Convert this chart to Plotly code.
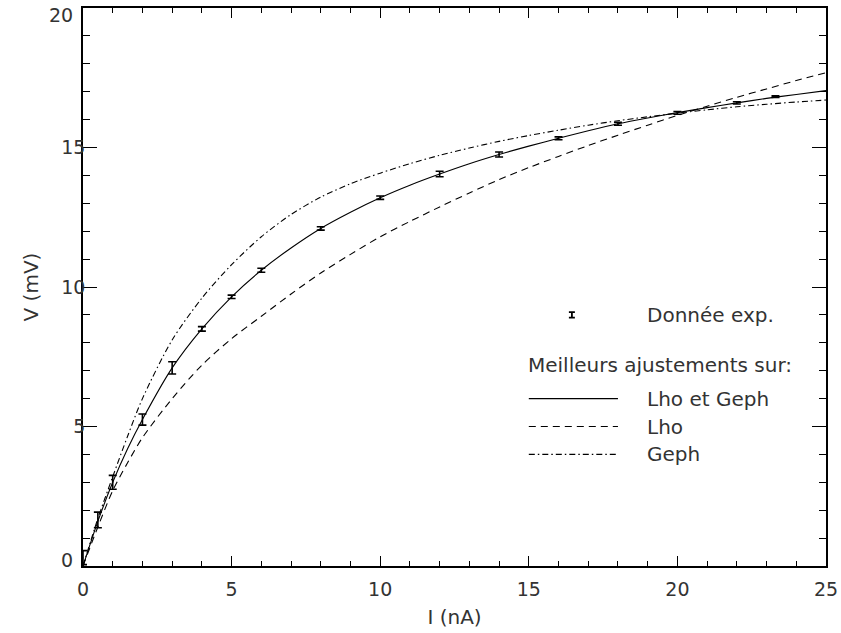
import plotly.graph_objects as go

# Experimental data
I_exp = [0, 0.5, 1, 2, 3, 4, 5, 6, 8, 10, 12, 14, 16, 18, 20, 22, 23.3]
V_exp = [0.3, 1.65, 3.0, 5.25, 7.1, 8.5, 9.65, 10.6, 12.1, 13.2, 14.05, 14.75, 15.33, 15.85, 16.24, 16.6, 16.82]
V_err = [0.25, 0.28, 0.25, 0.2, 0.22, 0.08, 0.06, 0.07, 0.06, 0.06, 0.1, 0.09, 0.05, 0.05, 0.05, 0.04, 0.03]

# Fit curves
I_fit = [0, 0.5, 1, 1.5, 2, 3, 4, 5, 6, 7, 8, 9, 10, 11, 12, 13, 14, 15, 16, 17, 18, 19, 20, 21, 22, 23, 24, 25]
V_both = [0.0, 1.6, 3.0, 4.2, 5.25, 7.1, 8.5, 9.65, 10.6, 11.4, 12.1, 12.68, 13.2, 13.65, 14.05, 14.42, 14.75, 15.05, 15.33, 15.6, 15.85, 16.06, 16.25, 16.43, 16.6, 16.76, 16.9, 17.04]
V_lho = [0.0, 1.4, 2.7, 3.7, 4.6, 6.0, 7.2, 8.15, 8.95, 9.75, 10.5, 11.17, 11.8, 12.35, 12.87, 13.37, 13.85, 14.28, 14.68, 15.07, 15.44, 15.8, 16.15, 16.48, 16.8, 17.1, 17.4, 17.68]
V_geph = [0.0, 1.7, 3.2, 4.65, 6.0, 8.1, 9.6, 10.8, 11.8, 12.6, 13.22, 13.7, 14.08, 14.42, 14.72, 14.98, 15.22, 15.43, 15.62, 15.8, 15.96, 16.1, 16.23, 16.35, 16.46, 16.55, 16.63, 16.7]

legend_labels = ["Donnée exp.", "Meilleurs ajustements sur:", "Lho et Geph", "Lho", "Geph"]
y_ticks = [5, 10, 15]
y_end_labels = ["0", "20"]

FONT = "DejaVu Sans"
BLACK = "black"
TXT = "#333"
DASH = "7px,5px"
DASHDOT = "6px,3px,1.5px,3px"

fig = go.Figure()

fig.add_trace(go.Scatter(x=I_fit, y=V_both, mode="lines", line=dict(color=BLACK, width=1.1, shape="spline", smoothing=0.8), showlegend=False))
fig.add_trace(go.Scatter(x=I_fit, y=V_lho, mode="lines", line=dict(color=BLACK, width=1.1, dash=DASH, shape="spline", smoothing=0.8), showlegend=False))
fig.add_trace(go.Scatter(x=I_fit, y=V_geph, mode="lines", line=dict(color=BLACK, width=1.1, dash=DASHDOT, shape="spline", smoothing=0.8), showlegend=False))

fig.add_trace(go.Scatter(
    x=I_exp, y=V_exp, mode="markers",
    marker=dict(size=1, color=BLACK),
    error_y=dict(type="data", array=V_err, visible=True, color=BLACK, thickness=1.6, width=4),
    showlegend=False))

# Manual legend (data coordinates)
leg_x0, leg_x1, leg_sym, leg_txt = 15, 18, 16.45, 19
leg_y = [9.0, 7.2, 6.0, 5.0, 4.0]

fig.add_trace(go.Scatter(
    x=[leg_sym], y=[leg_y[0]], mode="markers", marker=dict(size=1, color=BLACK),
    error_y=dict(type="data", array=[0.1], visible=True, color=BLACK, thickness=1.8, width=3),
    showlegend=False, hoverinfo="skip"))
fig.add_trace(go.Scatter(x=[leg_x0, leg_x1], y=[leg_y[2]] * 2, mode="lines", line=dict(color=BLACK, width=1.1), showlegend=False, hoverinfo="skip"))
fig.add_trace(go.Scatter(x=[leg_x0, leg_x1], y=[leg_y[3]] * 2, mode="lines", line=dict(color=BLACK, width=1.1, dash=DASH), showlegend=False, hoverinfo="skip"))
fig.add_trace(go.Scatter(x=[leg_x0, leg_x1], y=[leg_y[4]] * 2, mode="lines", line=dict(color=BLACK, width=1.1, dash=DASHDOT), showlegend=False, hoverinfo="skip"))

for i, (lbl, yy) in enumerate(zip(legend_labels, leg_y)):
    fig.add_annotation(x=leg_x0 if i == 1 else leg_txt, y=yy, text=lbl, showarrow=False,
                       xanchor="left", yanchor="middle", xshift=-3,
                       font=dict(family=FONT, size=20, color=TXT))

# end y tick labels, placed like the original (pulled inside the axis span)
for lbl, py, ys in zip(y_end_labels, [0, 1], [6, -7]):
    fig.add_annotation(xref="paper", yref="paper", x=0, y=py, text=lbl, showarrow=False,
                       xanchor="right", yanchor="middle", xshift=-8, yshift=ys,
                       font=dict(family=FONT, size=19, color=TXT))

axis_common = dict(
    showgrid=False, zeroline=False, showline=True, linecolor=BLACK, linewidth=1.5,
    mirror="ticks", ticks="inside", tickcolor=BLACK, tickwidth=1,
    tickfont=dict(family=FONT, size=19, color=TXT),
)

fig.update_xaxes(range=[0, 25], dtick=5, tick0=0, ticklen=10, ticklabelstandoff=5,
                 minor=dict(dtick=1, ticklen=5, ticks="inside", tickcolor=BLACK, tickwidth=1),
                 title=dict(text="I (nA)", font=dict(family=FONT, size=20, color=TXT), standoff=11),
                 **axis_common)
fig.update_yaxes(range=[0, 20], tickvals=y_ticks, ticklen=14, ticklabelstandoff=-8,
                 minor=dict(tickvals=list(range(0, 21)), ticklen=7, ticks="inside", tickcolor=BLACK, tickwidth=1),
                 title=dict(text="V (mV)", font=dict(family=FONT, size=20, color=TXT), standoff=17),
                 **axis_common)

fig.update_layout(
    width=841, height=633,
    margin=dict(l=83, r=15, t=8, b=67, autoexpand=False),
    paper_bgcolor="white", plot_bgcolor="white",
)

fig.write_html("out.html", config={"displayModeBar": False},
               post_script="document.body.style.margin='0';document.body.style.overflow='hidden';")
